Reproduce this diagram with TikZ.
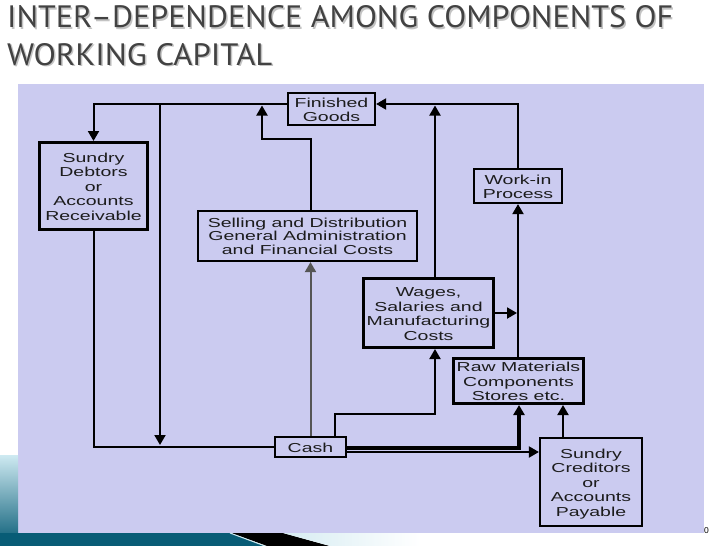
\documentclass[tikz,border=0pt]{standalone}
\usepackage{fontspec}
\setmainfont{Liberation Sans}
\newfontfamily\titlefont{PT Sans}
\usepackage{graphicx}
\usetikzlibrary{arrows.meta}
\definecolor{panel}{RGB}{203,203,240}
\definecolor{ttl}{RGB}{66,66,66}
\definecolor{ttlsh}{RGB}{195,195,195}
\definecolor{ink}{RGB}{28,28,28}
\definecolor{grayln}{RGB}{85,85,85}
\definecolor{tealD}{RGB}{8,92,118}
\definecolor{tealL}{RGB}{92,184,210}
\definecolor{paleC}{RGB}{214,236,242}
\newcommand{\bx}[1]{\raisebox{-2.5pt}[\height][\depth]{\scalebox{1.5}[1]{\fontsize{13}{14.5}\selectfont\begin{tabular}{@{}c@{}}#1\end{tabular}}}}
\newcommand{\bxs}[1]{\raisebox{-2pt}[\height][\depth]{\scalebox{1.5}[1]{\fontsize{13}{13}\selectfont\begin{tabular}{@{}c@{}}#1\end{tabular}}}}
\begin{document}
\begin{tikzpicture}[x=1pt,y=-1pt,
  box/.style={draw=black,line width=2.2pt,fill=panel,inner sep=0pt,text=ink},
  thickbox/.style={box,line width=3pt},
  ln/.style={line width=2pt,draw=black},
  arr/.style={ln,-{Triangle[width=11pt,length=10pt]}}]
\useasboundingbox (0,0) rectangle (728,546);
\fill[white] (0,0) rectangle (728,546);
\fill[panel] (18,84) rectangle (704,533);
% bottom decoration
\shade[top color=tealL!30!white,bottom color=tealD] (0,455) rectangle (18,546);
\shade[left color=tealD,middle color=tealL,right color=tealD] (0,533) -- (230,533) -- (265,546) -- (0,546) -- cycle;
\fill[black] (231,533) -- (283,533) -- (330,546) -- (267,546) -- cycle;
\draw[white!70!tealL,line width=1pt] (230,533) -- (265,546);
\shade[left color=paleC,right color=white] (283,533) -- (420,533) -- (420,546) -- (330,546) -- cycle;
% title
\node[anchor=south west,inner sep=0pt,text=ttlsh] (t1s) at (8.5,30) {\resizebox{666pt}{22pt}{\titlefont INTER–DEPENDENCE AMONG COMPONENTS OF}};
\node[anchor=south west,inner sep=0pt,text=ttl] (t1) at (7,28.5) {\resizebox{666pt}{22pt}{\titlefont INTER–DEPENDENCE AMONG COMPONENTS OF}};
\node[anchor=south west,inner sep=0pt,text=ttlsh] (t2s) at (8.5,67.5) {\resizebox{265pt}{22pt}{\titlefont WORKING CAPITAL}};
\node[anchor=south west,inner sep=0pt,text=ttl] (t2) at (7,66) {\resizebox{265pt}{22pt}{\titlefont WORKING CAPITAL}};
% boxes
\node[box,minimum width=87pt,minimum height=32pt] (fg) at (331.5,109) {\bx{Finished\\Goods}};
\node[thickbox,minimum width=108pt,minimum height=87pt] (sd) at (93.5,186) {\bx{Sundry\\Debtors\\or\\Accounts\\Receivable}};
\node[box,minimum width=219pt,minimum height=50pt] (sel) at (307.5,236) {\bxs{Selling and Distribution\\General Administration\\and Financial Costs}};
\node[box,minimum width=88pt,minimum height=34pt] (wip) at (518,186) {\bx{Work-in\\Process}};
\node[thickbox,minimum width=130pt,minimum height=69pt] (wages) at (428.5,313) {\bx{Wages,\\Salaries and\\Manufacturing\\Costs}};
\node[thickbox,minimum width=130pt,minimum height=45pt] (raw) at (518.5,381) {\bx{Raw Materials\\Components\\Stores etc.}};
\node[box,minimum width=102pt,minimum height=88pt] (cred) at (591,482) {\bx{Sundry\\Creditors\\or\\Accounts\\Payable}};
\node[box,minimum width=71pt,minimum height=20pt] (cash) at (310.5,447) {\bx{Cash}};
\node[anchor=base west,inner sep=0pt,font=\fontsize{8.5}{9}\selectfont] (pg) at (704,533) {0};
% helper coordinates
\coordinate (a1) at (160,104);
\coordinate (a2) at (160,446);
\coordinate (s1) at (310.5,139);
\coordinate (s2) at (262,139);
\coordinate (s3) at (262,105.5);
\coordinate (w1) at (335,414);
\coordinate (w2) at (435,414);
\coordinate (w3) at (435,105.5);
\coordinate (r1) at (519,448);
\coordinate (k1) at (563,437);
% connectors
\draw[arr] ([yshift=5pt]fg.west) -| (sd.north);
\draw[arr,shorten >=1pt] (a1) -- (a2);
\draw[ln] (sd.south) |- (cash.west);
\draw[arr] (sel.north -| cash.north) -- (s1) -- (s2) -- (s3);
\draw[arr,draw=grayln] (cash.north) -- (cash.north |- sel.south);
\draw[arr] (cash.north -| w1) -- (w1) -- (w2) -- (w2 |- wages.south);
\draw[arr] (w2 |- wages.north) -- (w3);
\draw[arr,line width=3.2pt] (cash.east |- r1) -- (r1) -- (r1 |- raw.south);
\draw[arr] ([yshift=-5pt]cash.east) -- ([yshift=-5pt]cash.east -| cred.west);
\draw[arr] (k1) -- (k1 |- raw.south);
\draw[arr] (raw.north -| wip.south) -- (wip.south);
\draw[arr,shorten >=1pt] (wages.east) -- (wages.east -| wip.south);
\draw[arr] (wip.north) |- ([yshift=5pt]fg.east);
\end{tikzpicture}
\end{document}
